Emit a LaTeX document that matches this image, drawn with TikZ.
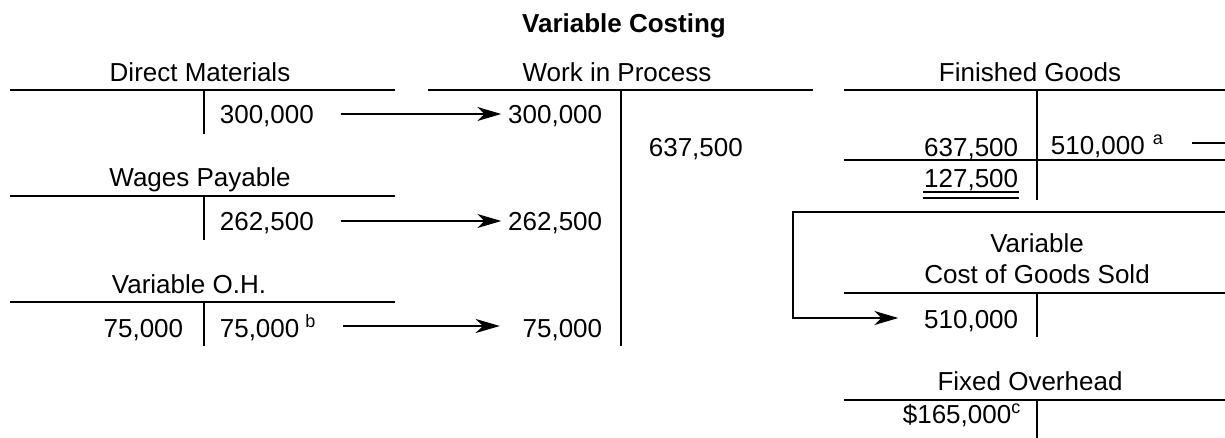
\documentclass[tikz,border=0pt]{standalone}
\usepackage{fontspec}
\setmainfont{Liberation Sans}
\usetikzlibrary{arrows.meta}
\newcommand{\supr}[1]{\raisebox{10pt}{\fontsize{18}{18}\selectfont #1}}
\begin{document}
\begin{tikzpicture}[x=1pt,y=-1pt, line width=1.7pt,
  txt/.style={inner sep=0pt, font=\fontsize{26}{30}\selectfont},
  ttl/.style={inner sep=0pt, font=\fontsize{26}{30}\selectfont\bfseries},
  tline/.style={line width=1.7pt},
  arr/.style={line width=1.7pt, -{Stealth[length=24pt,width=14pt,inset=7pt]}}]
\useasboundingbox (0,0) rectangle (1225,438);
\node[ttl,anchor=base] (title) at (624,33) {Variable Costing};

% Direct Materials
\node[txt,anchor=base] (dmt) at (200,82) {Direct Materials};
\draw[tline] (10,90) -- (395,90) (204,90) -- (204,134);
\node[txt,anchor=base west] (dm1) at (219,124) {300,000};

% Wages Payable
\node[txt,anchor=base] (wpt) at (200,187) {Wages Payable};
\draw[tline] (10,196) -- (395,196) (204,196) -- (204,240);
\node[txt,anchor=base west] (wp1) at (219,231) {262,500};

% Variable O.H.
\node[txt,anchor=base] (vot) at (189,293) {Variable O.H.};
\draw[tline] (10,302) -- (395,302) (204,302) -- (204,346);
\node[txt,anchor=base east] (vo1) at (184,337) {75,000};
\node[txt,anchor=base west] (vo2) at (219,337) {75,000\hspace{6pt}\supr{b}};

% Work in Process
\node[txt,anchor=base] (wipt) at (617,82) {Work in Process};
\draw[tline] (428,90) -- (813,90) (621,90) -- (621,346);
\node[txt,anchor=base east] (wip1) at (603,124) {300,000};
\node[txt,anchor=base east] (wip2) at (603,231) {262,500};
\node[txt,anchor=base east] (wip3) at (603,337) {75,000};
\node[txt,anchor=base west] (wipc) at (648,157) {637,500};

% Finished Goods
\node[txt,anchor=base] (fgt) at (1030,82) {Finished Goods};
\draw[tline] (844,90) -- (1225,90) (1037,90) -- (1037,200) (844,160) -- (1225,160);
\node[txt,anchor=base east] (fg1) at (1019,157) {637,500};
\node[txt,anchor=base west] (fg2) at (1050,155) {510,000\hspace{8pt}\supr{a}};
\node[txt,anchor=base east] (fg3) at (1019,188) {127,500};
\draw[tline] ([yshift=-4pt]fg3.base west) -- ([yshift=-4pt]fg3.base east);
\draw[tline] ([yshift=-10pt]fg3.base west) -- ([yshift=-10pt]fg3.base east);

% Variable Cost of Goods Sold
\node[txt,anchor=base] (vc1) at (1037,253) {Variable};
\node[txt,anchor=base] (vc2) at (1037,283) {Cost of Goods Sold};
\draw[tline] (844,293) -- (1225,293) (1037,293) -- (1037,337);
\node[txt,anchor=base east] (vcg) at (1019,328) {510,000};

% Fixed Overhead
\node[txt,anchor=base] (fot) at (1030,390) {Fixed Overhead};
\draw[tline] (844,400) -- (1225,400) (1037,400) -- (1037,440);
\node[txt,anchor=base west] (fo1) at (902,423) {\$165,000\supr{c}};

% connectors
\draw[arr] ([xshift=26pt,yshift=10pt]dm1.base east) -- ([xshift=-6pt,yshift=10pt]wip1.base west);
\draw[arr] ([xshift=26pt,yshift=10pt]wp1.base east) -- ([xshift=-6pt,yshift=10pt]wip2.base west);
\draw[arr] ([xshift=27pt,yshift=11pt]vo2.base east) -- ([xshift=-22pt,yshift=11pt]wip3.base west);
\coordinate (fgout) at (1226,143);
\draw[tline] ([xshift=28pt,yshift=12pt]fg2.base east) -- (fgout);
\coordinate (boxin) at (1226,212);
\coordinate (corner) at (793,212);
\draw[arr] (boxin) -- (corner) |- ([xshift=-25pt,yshift=10pt]vcg.base west);
\end{tikzpicture}
\end{document}
